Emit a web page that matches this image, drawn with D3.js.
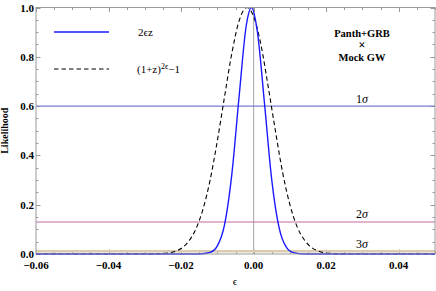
<!DOCTYPE html>
<html>
<head>
<meta charset="utf-8">
<script src="https://cdn.jsdelivr.net/npm/d3@7"></script>
<style>
  body { margin: 0; background: #fff; }
  svg { display: block; font-family: "Liberation Serif", "DejaVu Serif", serif; }
  .tick-lbl { font-size: 11px; font-weight: bold; fill: #000; }
</style>
</head>
<body>
<svg id="chart" width="436" height="291"></svg>
<script>
// ---- data ----
const blueEps = [-0.06, -0.02, -0.015, -0.012, -0.010, -0.008, -0.006, -0.004, -0.002, -0.0006,
                 0.001, 0.003, 0.005, 0.007, 0.009, 0.011, 0.014, 0.02, 0.05];
const blueL   = [0, 0, 0.0003, 0.0066, 0.033, 0.12, 0.325, 0.64, 0.93, 1.0,
                 0.905, 0.61, 0.30, 0.108, 0.028, 0.0055, 0.0003, 0, 0];

const dashEps = [-0.06, -0.03, -0.025, -0.022, -0.020, -0.018, -0.016, -0.014, -0.012, -0.010,
                 -0.008, -0.006, -0.004, -0.0018, 0.000, 0.002, 0.004, 0.006, 0.008, 0.010,
                 0.012, 0.014, 0.016, 0.018, 0.021, 0.025, 0.05];
const dashL   = [0, 0.0001, 0.002, 0.0093, 0.022, 0.05, 0.099, 0.18, 0.30, 0.46,
                 0.64, 0.815, 0.946, 1.0, 0.963, 0.85, 0.68, 0.50, 0.33, 0.20,
                 0.11, 0.057, 0.026, 0.011, 0.0026, 0.0003, 0];

const sigmaNums   = ['1', '2', '3'];
const sigmaLevels = [0.6, 0.13, 0.011];
const sigmaColors = ['#7b7bd4', '#c46aa6', '#d9ccb0'];

const xTicks = [-0.06, -0.04, -0.02, 0.00, 0.02, 0.04];
const yTicks = [0.0, 0.2, 0.4, 0.6, 0.8, 1.0];

// ---- layout ----
const svg = d3.select('#chart');
const L = 36, R = 435, T = 7.5, B = 254;

const x = d3.scaleLinear().domain([-0.06, 0.05]).range([L, R]);
const y = d3.scaleLinear().domain([0, 1]).range([B, T]);

const frameCol = '#9a9a9a';

// minor / major ticks, drawn inward on all four sides
const xMinor = d3.range(-0.06, 0.0501, 0.005);
const yMinor = d3.range(0, 1.0001, 0.05);
const isMajor = (v, step) => Math.abs(v / step - Math.round(v / step)) < 1e-6;

const tk = svg.append('g').attr('stroke', frameCol).attr('stroke-width', 1);
xMinor.forEach(v => {
  const len = isMajor(v, 0.02) ? 4.5 : 2.5;
  const px = Math.round(x(v)) + 0.5;
  tk.append('line').attr('x1', px).attr('x2', px).attr('y1', B).attr('y2', B - len);
  tk.append('line').attr('x1', px).attr('x2', px).attr('y1', T).attr('y2', T + len);
});
yMinor.forEach(v => {
  const len = isMajor(v, 0.2) ? 4.5 : 2.5;
  const py = Math.round(y(v)) + 0.5;
  tk.append('line').attr('x1', L).attr('x2', L + len).attr('y1', py).attr('y2', py);
  tk.append('line').attr('x1', R).attr('x2', R - len).attr('y1', py).attr('y2', py);
});

// vertical line at epsilon = 0
svg.append('line')
  .attr('x1', x(0)).attr('x2', x(0)).attr('y1', T).attr('y2', B)
  .attr('stroke', '#8c8c8c').attr('stroke-width', 0.8);

// sigma levels
svg.append('g').selectAll('line').data(sigmaLevels).join('line')
  .attr('x1', L).attr('x2', R)
  .attr('y1', d => y(d)).attr('y2', d => y(d))
  .attr('stroke', (d, i) => sigmaColors[i])
  .attr('stroke-width', (d, i) => i === 2 ? 2.5 : 1.1);

const sl = svg.append('g').selectAll('text').data(sigmaNums).join('text')
  .attr('x', 362).attr('y', (d, i) => y(sigmaLevels[i]) - 3.5)
  .attr('text-anchor', 'middle')
  .style('font-size', '12px');
sl.append('tspan').text(d => d);
sl.append('tspan').style('font-style', 'italic').text('σ');

// curves
const line = d3.line().x(d => x(d[0])).y(d => y(d[1])).curve(d3.curveMonotoneX);

svg.append('path')
  .datum(d3.zip(dashEps, dashL))
  .attr('d', line)
  .attr('fill', 'none').attr('stroke', '#000').attr('stroke-width', 1.1)
  .attr('stroke-dasharray', '4.5,3');

svg.append('path')
  .datum(d3.zip(blueEps, blueL))
  .attr('d', line)
  .attr('fill', 'none').attr('stroke', '#1a1aff').attr('stroke-width', 1.4);

// frame
svg.append('rect')
  .attr('x', L).attr('y', T).attr('width', R - L).attr('height', B - T)
  .attr('fill', 'none').attr('stroke', frameCol).attr('stroke-width', 1);

// tick labels
svg.append('g').selectAll('text').data(xTicks).join('text')
  .attr('class', 'tick-lbl')
  .attr('x', d => x(d)).attr('y', B + 15)
  .attr('text-anchor', 'middle')
  .text(d => d3.format('.2f')(d).replace('-', '\u2212'));

svg.append('g').selectAll('text').data(yTicks).join('text')
  .attr('class', 'tick-lbl')
  .attr('x', L - 2).attr('y', d => y(d) + 4)
  .attr('text-anchor', 'end')
  .text(d => d3.format('.1f')(d));

// axis titles
svg.append('text')
  .attr('x', 235).attr('y', 285)
  .attr('text-anchor', 'middle')
  .style('font-size', '11px')
  .text('ϵ');

svg.append('text')
  .attr('transform', `translate(8,${(T + B) / 2}) rotate(-90)`)
  .attr('text-anchor', 'middle')
  .style('font-size', '10px').style('font-weight', 'bold')
  .text('Likelihood');

// legend
const lg = svg.append('g');
lg.append('line').attr('x1', 54).attr('x2', 109).attr('y1', 32).attr('y2', 32)
  .attr('stroke', '#1a1aff').attr('stroke-width', 1.4);
lg.append('text').attr('x', 138).attr('y', 36).style('font-size', '11px').text('2ϵz');
lg.append('line').attr('x1', 54).attr('x2', 109).attr('y1', 69).attr('y2', 69)
  .attr('stroke', '#000').attr('stroke-width', 1.1).attr('stroke-dasharray', '4.5,3');
const t2 = lg.append('text').attr('x', 137).attr('y', 73).style('font-size', '11px');
t2.append('tspan').text('(1+z)');
t2.append('tspan').attr('dy', -4).style('font-size', '8px').text('2ϵ');
t2.append('tspan').attr('dy', 4).text('\u22121');

// data set annotation
const annLines = ['Panth+GRB', '×', 'Mock GW'];
const annY = [37, 49, 61];
svg.append('g').selectAll('text').data(annLines).join('text')
  .attr('x', 362).attr('y', (d, i) => annY[i])
  .attr('text-anchor', 'middle')
  .style('font-size', (d, i) => i === 1 ? '12px' : '10.5px').style('font-weight', 'bold')
  .text(d => d);
</script>
</body>
</html>
